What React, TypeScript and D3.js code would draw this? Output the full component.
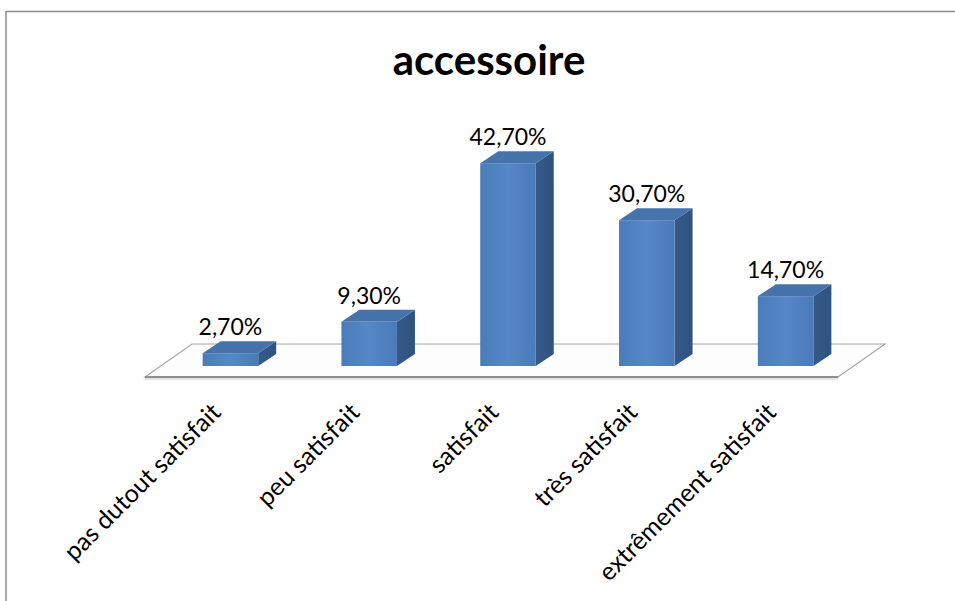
import React from "react";
import * as d3 from "d3";

const categories = [
  "pas dutout satisfait",
  "peu satisfait",
  "satisfait",
  "très satisfait",
  "extrêmement satisfait",
];
const values = [2.7, 9.3, 42.7, 30.7, 14.7];
const valueLabels = ["2,70%", "9,30%", "42,70%", "30,70%", "14,70%"];
const title = "accessoire";

const W = 955;
const H = 601;

export default function App() {
  const x = d3
    .scaleBand<string>()
    .domain(categories)
    .range([161, 855])
    .paddingInner(0.6)
    .paddingOuter(0.3);
  const y = d3.scaleLinear().domain([0, 45]).range([366, 152.25]);

  const dx = 18;
  const dy = -12;
  const base = y(0);
  const bw = x.bandwidth();

  // floor
  const fFront = base + 11;
  const fBack = base - 22;
  const fLeft = 145;
  const fRight = 838;
  const fdx = 47;
  const floorPath = d3.path();
  floorPath.moveTo(fLeft, fFront);
  floorPath.lineTo(fLeft + fdx, fBack);
  floorPath.lineTo(fRight + fdx, fBack);
  floorPath.lineTo(fRight, fFront);
  floorPath.closePath();

  const font = "Lato, 'Open Sans', sans-serif";

  return (
    <svg
      width={W}
      height={H}
      style={{ position: "absolute", left: 0, top: 0, background: "#fff" }}
    >
      <defs>
        <linearGradient id="front" x1="0" x2="1" y1="0" y2="0">
          <stop offset="0" stopColor="#4b7cba" />
          <stop offset="0.5" stopColor="#5687c6" />
          <stop offset="1" stopColor="#4a7ab8" />
        </linearGradient>
        <linearGradient id="side" x1="0" x2="1" y1="0" y2="0">
          <stop offset="0" stopColor="#355a8a" />
          <stop offset="1" stopColor="#2f5280" />
        </linearGradient>
      </defs>
      <rect x={0} y={0} width={W} height={H} fill="#fff" />
      {/* chart border */}
      <path
        d={`M6,${H} L6,11.5 L${W},11.5`}
        fill="none"
        stroke="#8c8c8c"
        strokeWidth={1.5}
      />
      <text
        x={489}
        y={75}
        textAnchor="middle"
        fontFamily={font}
        fontWeight={700}
        fontSize={42}
        fill="#000"
      >
        {title}
      </text>

      {/* floor */}
      <path d={floorPath.toString()} fill="#fdfdfd" stroke="#a6a6a6" strokeWidth={1.2} />
      <line x1={fLeft} x2={fRight} y1={fFront} y2={fFront} stroke="#8f8f8f" strokeWidth={2} />
      <line x1={fLeft} x2={fRight} y1={fFront + 2} y2={fFront + 2} stroke="#d8d8d8" strokeWidth={1.5} />

      {categories.map((c, i) => {
        const x0 = x(c)!;
        const x1 = x0 + bw;
        const yt = y(values[i]);
        const top = `M${x0},${yt} L${x0 + dx},${yt + dy} L${x1 + dx},${yt + dy} L${x1},${yt} Z`;
        const side = `M${x1},${yt} L${x1 + dx},${yt + dy} L${x1 + dx},${base + dy} L${x1},${base} Z`;
        return (
          <g key={c}>
            <path d={side} fill="url(#side)" />
            <path d={top} fill="#4673ab" />
            <rect x={x0} y={yt} width={bw} height={base - yt} fill="url(#front)" />
            <text
              x={x0 + bw / 2}
              y={yt - 18}
              textAnchor="middle"
              fontFamily={font}
              fontSize={23}
              fill="#000"
            >
              {valueLabels[i]}
            </text>
            <text
              transform={`translate(${x0 + bw / 2 - 8},${base + 48}) rotate(-45)`}
              textAnchor="end"
              fontFamily={font}
              fontSize={25}
              fill="#000"
            >
              {c}
            </text>
          </g>
        );
      })}
    </svg>
  );
}
